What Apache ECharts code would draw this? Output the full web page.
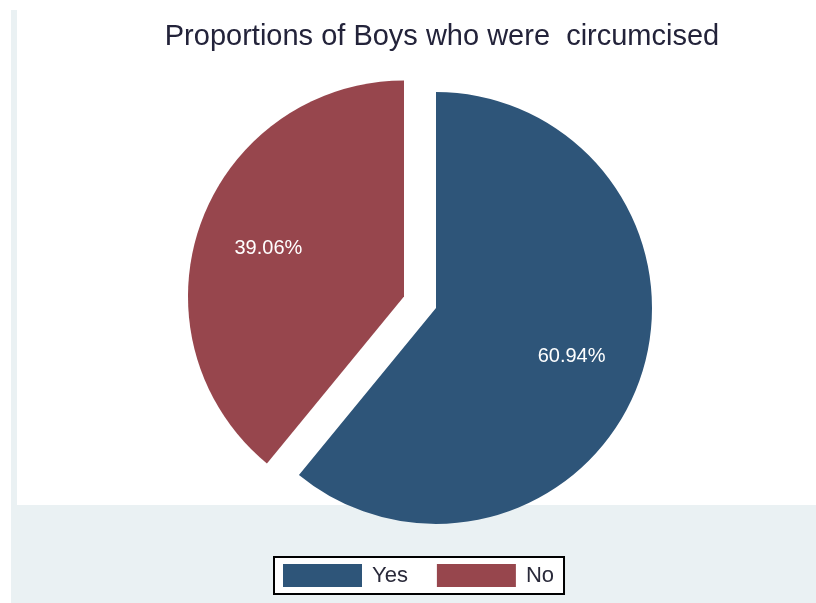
<!DOCTYPE html>
<html>
<head>
<meta charset="utf-8">
<script src="https://cdn.jsdelivr.net/npm/echarts@6/dist/echarts.min.js"></script>
<style>
  html, body { margin: 0; padding: 0; background: #ffffff; }
  #chart { width: 816px; height: 603px; }
</style>
</head>
<body>
<div id="chart"></div>
<script>
// Share of boys by circumcision status (percent)
const categories = ['Yes', 'No'];
const percentages = [60.94, 39.06];
const sliceColors = ['#2E5579', '#97464D'];
const explodedSlices = ['No'];
const chartTitle = 'Proportions of Boys who were  circumcised';

const FONT = '"Liberation Sans", Arial, Helvetica, sans-serif';
const CENTER = [436, 308];
const RADIUS = 216;
const EXPLODE = 34;

const pieData = categories.map((name, i) => ({
  name: name,
  value: percentages[i],
  selected: explodedSlices.includes(name),
  itemStyle: { color: sliceColors[i] }
}));

const labelData = categories.map((name, i) => ({
  name: name,
  value: percentages[i],
  selected: explodedSlices.includes(name)
}));

const chart = echarts.init(document.getElementById('chart'), null, { renderer: 'canvas' });

chart.setOption({
  animation: false,
  backgroundColor: '#ffffff',
  textStyle: { fontFamily: FONT },
  graphic: [
    // outer graph region
    { type: 'rect', z: -10, silent: true,
      shape: { x: 11, y: 10, width: 805, height: 593 },
      style: { fill: '#EAF1F3' } },
    // inner plot region
    { type: 'rect', z: -9, silent: true,
      shape: { x: 17, y: 10, width: 799, height: 495 },
      style: { fill: '#ffffff' } }
  ],
  title: {
    text: chartTitle,
    left: 437,
    textAlign: 'center',
    top: 17,
    textStyle: {
      fontFamily: FONT,
      fontSize: 29,
      fontWeight: 'normal',
      color: '#23233A'
    }
  },
  legend: {
    data: categories.map((name, i) => ({ name: name, itemStyle: { color: sliceColors[i] } })),
    left: 274,
    top: 557,
    orient: 'horizontal',
    icon: 'rect',
    itemWidth: 79,
    itemHeight: 23,
    itemGap: 29,
    padding: [7, 10, 7, 9],
    backgroundColor: '#ffffff',
    borderColor: '#000000',
    borderWidth: 2,
    borderRadius: 0,
    selectedMode: false,
    textStyle: {
      fontFamily: FONT,
      fontSize: 22,
      color: '#2a2a3a',
      padding: [0, 0, 0, 5]
    }
  },
  series: [
    {
      name: 'share',
      type: 'pie',
      center: CENTER,
      radius: [0, RADIUS],
      startAngle: 90,
      clockwise: true,
      selectedMode: 'multiple',
      selectedOffset: EXPLODE,
      avoidLabelOverlap: false,
      label: { show: false },
      labelLine: { show: false },
      itemStyle: { borderWidth: 0 },
      emphasis: { disabled: true },
      data: pieData
    },
    {
      // transparent ring carrying the percentage labels
      name: 'labels',
      type: 'pie',
      center: CENTER,
      radius: [66, RADIUS],
      startAngle: 90,
      clockwise: true,
      selectedMode: 'multiple',
      selectedOffset: EXPLODE,
      silent: true,
      avoidLabelOverlap: false,
      itemStyle: { color: 'rgba(0,0,0,0)', borderWidth: 0 },
      label: {
        show: true,
        position: 'inside',
        formatter: p => p.value.toFixed(2) + '%',
        color: '#ffffff',
        fontFamily: FONT,
        fontSize: 20
      },
      labelLine: { show: false },
      emphasis: { disabled: true },
      data: labelData
    }
  ]
});
</script>
</body>
</html>
